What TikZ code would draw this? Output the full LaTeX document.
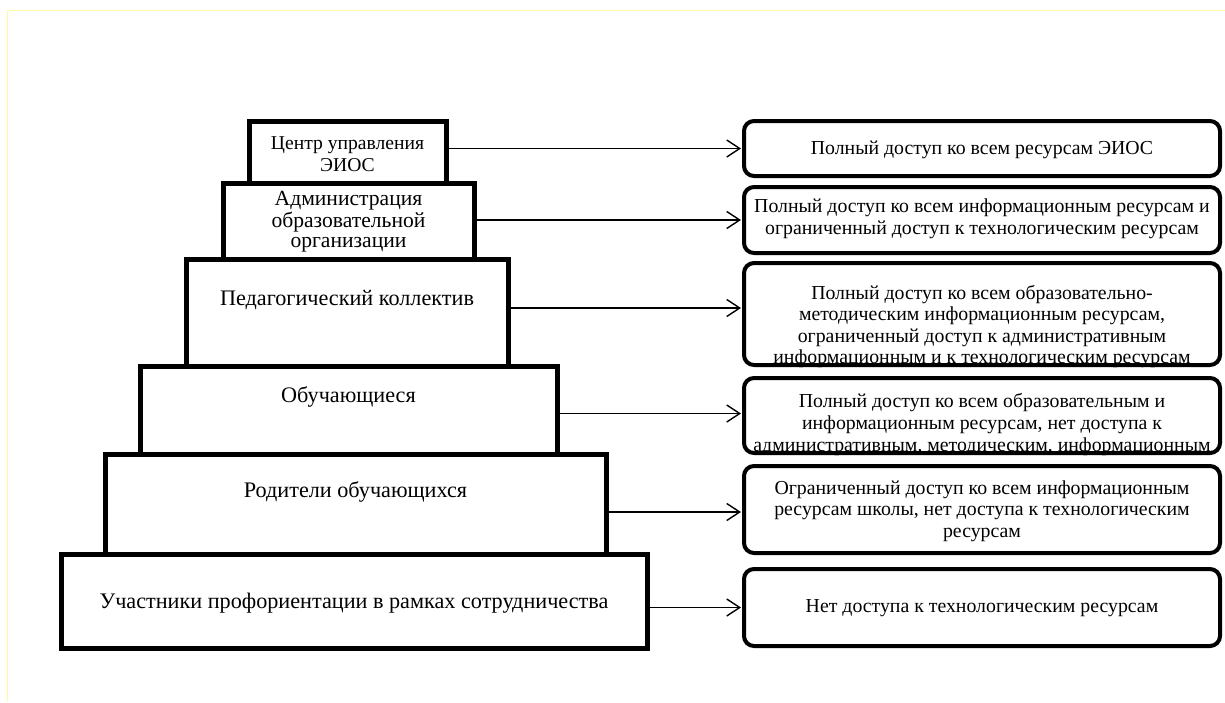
\documentclass[tikz,border=0pt]{standalone}
\usepackage{fontspec}
\setmainfont{Liberation Serif}
\usetikzlibrary{arrows.meta,positioning}

\begin{document}
\begin{tikzpicture}[
        x=0.5pt, y=-0.5pt,
        tier/.style={draw, line width=2.5pt, inner sep=0pt},
        access/.style={draw, line width=2pt, rounded corners=5pt, minimum width=238pt, inner sep=0pt},
        tier text/.style={font=\fontsize{11.1}{10.3}\selectfont, align=center, inner sep=0pt},
        access text/.style={font=\fontsize{9.9}{10.8}\selectfont, align=center, inner sep=0pt},
        pile/.style={line width=0.7pt, -{Straight Barb[length=6.5pt,width=8.5pt,line width=0.7pt]}, shorten >=0.5pt},
        frame line/.style={color=yellow!35, line width=0.5pt}
    ]
    \useasboundingbox (0,0) rectangle (1225,702);
    % frame
    \draw[frame line] (1225,10) -- (7,10) -- (7,702);
    % pyramid
    \node[tier, minimum width=98.5pt, minimum height=31pt] (centre) at (347.5,152) {};
    \node[tier, minimum width=125.5pt, minimum height=38pt] (admin) at (348.5,221) {};
    \node[tier, minimum width=161pt, minimum height=53.5pt] (teachers) at (347,312.5) {};
    \node[tier, minimum width=208.5pt, minimum height=44pt] (pupils) at (348.5,410) {};
    \node[tier, minimum width=250.5pt, minimum height=50pt] (parents) at (355.5,504) {};
    \node[tier, minimum width=293pt, minimum height=47pt] (partners) at (354,601) {};
    \node[tier text, font=\fontsize{9.8}{10.85}\selectfont] (centretxt) at (347.5,154) {Центр управления\\ЭИОС};
    \node[tier text, font=\fontsize{10.8}{9.7}\selectfont] (admintxt) at (348.5,221.5) {Администрация\\образовательной\\организации};
    \node[tier text] (teacherstxt) at (347,300) {Педагогический коллектив};
    \node[tier text] (pupilstxt) at (348.5,397) {Обучающиеся};
    \node[tier text] (parentstxt) at (355.5,492) {Родители обучающихся};
    \node[tier text] (partnerstxt) at (354,603) {Участники профориентации в рамках сотрудничества};
    % access rights
    \node[access, minimum height=27.5pt] (centreacc) at (982,148.5) {};
    \node[access, minimum height=33pt] (adminacc) at (982,220) {};
    \node[access, minimum height=51pt] (teachacc) at (982,314) {};
    \node[access, minimum height=37.5pt] (pupilacc) at (982,415.5) {};
    \node[access, minimum height=43.5pt] (parentacc) at (982,509.5) {};
    \node[access, minimum height=38.5pt] (partneracc) at (982,607.5) {};
    \node[access text] (centreacctxt) at (982,150) {Полный доступ ко всем ресурсам ЭИОС};
    \node[access text] (adminacctxt) at (982,218.5) {Полный доступ ко всем информационным ресурсам и\\ограниченный доступ к технологическим ресурсам};
    \begin{scope}
        \clip[rounded corners=5pt] (teachacc.south west) rectangle (teachacc.north east);
        \node[access text] (teachacctxt) at (982,326.5) {Полный доступ ко всем образовательно-\\методическим информационным ресурсам,\\ограниченный доступ к административным\\информационным и к технологическим ресурсам};
    \end{scope}
    \begin{scope}
        \clip[rounded corners=5pt] (pupilacc.south west) rectangle (pupilacc.north east);
        \node[access text] (pupilacctxt) at (982,424.5) {Полный доступ ко всем образовательным и\\информационным ресурсам, нет доступа к\\административным, методическим, информационным};
    \end{scope}
    \node[access text] (parentacctxt) at (982,511) {Ограниченный доступ ко всем информационным\\ресурсам школы, нет доступа к технологическим\\ресурсам};
    \node[access text] (partneracctxt) at (982,608) {Нет доступа к технологическим ресурсам};
    % arrows
    \draw[pile] (centre.east |- centreacc.west) -- (centreacc.west);
    \draw[pile] (admin.east |- adminacc.west) -- (adminacc.west);
    \draw[pile] ([yshift=3pt]teachers.east |- teachacc.west) -- ([yshift=3pt]teachacc.west);
    \draw[pile] ([yshift=1pt]pupils.east |- pupilacc.west) -- ([yshift=1pt]pupilacc.west);
    \draw[pile] ([yshift=-1.25pt]parents.east |- parentacc.west) -- ([yshift=-1.25pt]parentacc.west);
    \draw[pile] (partners.east |- partneracc.west) -- (partneracc.west);
\end{tikzpicture}
\end{document}
